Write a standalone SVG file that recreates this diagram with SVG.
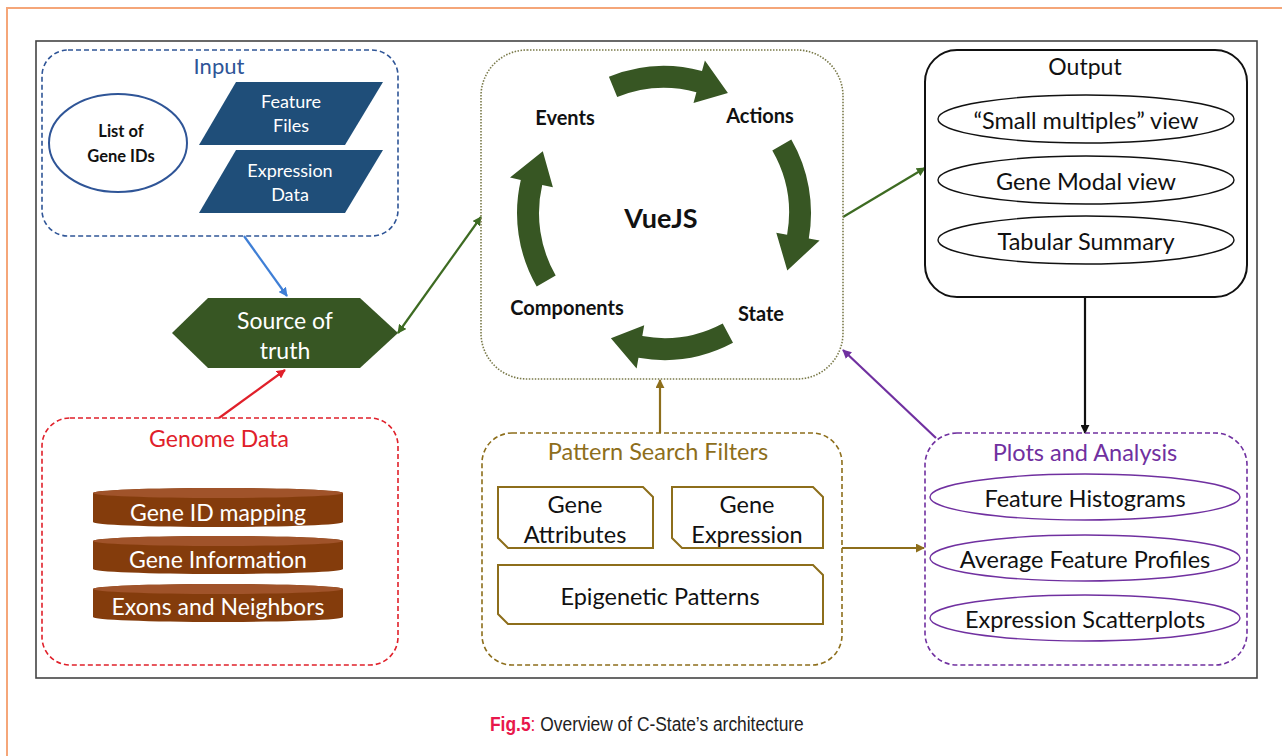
<svg xmlns="http://www.w3.org/2000/svg" width="1282" height="756" viewBox="0 0 1282 756">
<defs>
<style>
.t{font-family:Lato,"Open Sans","Liberation Sans",sans-serif;text-anchor:middle;dominant-baseline:central}
.b{font-weight:bold}
.con{fill:none;stroke-width:2.2}
</style>
<marker id="mBlue" viewBox="0 0 10 10" refX="9" refY="5" markerWidth="9" markerHeight="9" markerUnits="userSpaceOnUse" orient="auto"><path d="M0,0 L10,5 L0,10 Z" fill="#3f7fd6"/></marker>
<marker id="mRed" viewBox="0 0 10 10" refX="9" refY="5" markerWidth="9" markerHeight="9" markerUnits="userSpaceOnUse" orient="auto"><path d="M0,0 L10,5 L0,10 Z" fill="#e0202a"/></marker>
<marker id="mGreen" viewBox="0 0 10 10" refX="9" refY="5" markerWidth="9" markerHeight="9" markerUnits="userSpaceOnUse" orient="auto-start-reverse"><path d="M0,0 L10,5 L0,10 Z" fill="#3d6b22"/></marker>
<marker id="mBlack" viewBox="0 0 10 10" refX="9" refY="5" markerWidth="9" markerHeight="9" markerUnits="userSpaceOnUse" orient="auto"><path d="M0,0 L10,5 L0,10 Z" fill="#111"/></marker>
<marker id="mOlive" viewBox="0 0 10 10" refX="9" refY="5" markerWidth="9" markerHeight="9" markerUnits="userSpaceOnUse" orient="auto"><path d="M0,0 L10,5 L0,10 Z" fill="#8d6e1b"/></marker>
<marker id="mPurple" viewBox="0 0 10 10" refX="9" refY="5" markerWidth="9" markerHeight="9" markerUnits="userSpaceOnUse" orient="auto"><path d="M0,0 L10,5 L0,10 Z" fill="#7030a0"/></marker>
</defs>
<rect width="1282" height="756" fill="#fff"/>
<rect x="7" y="8" width="1290" height="760" fill="none" stroke="#f5a679" stroke-width="2"/>
<rect x="36" y="41" width="1221" height="637" fill="#fff" stroke="#444" stroke-width="1.6"/>

<g id="connectors">
<line class="con" x1="244" y1="236" x2="287" y2="296" stroke="#3f7fd6" marker-end="url(#mBlue)"/>
<line class="con" x1="219" y1="418" x2="285" y2="370" stroke="#e0202a" marker-end="url(#mRed)"/>
<line class="con" x1="398" y1="333" x2="481" y2="217" stroke="#3d6b22" marker-start="url(#mGreen)" marker-end="url(#mGreen)"/>
<line class="con" x1="843" y1="217" x2="925" y2="168" stroke="#3d6b22" marker-end="url(#mGreen)"/>
<line class="con" x1="1085" y1="297" x2="1085" y2="433" stroke="#111" marker-end="url(#mBlack)"/>
<line class="con" x1="936" y1="438" x2="843" y2="350" stroke="#7030a0" marker-end="url(#mPurple)"/>
<line class="con" x1="660" y1="433" x2="660" y2="380" stroke="#8d6e1b" marker-end="url(#mOlive)"/>
<line class="con" x1="842" y1="548" x2="924" y2="548" stroke="#8d6e1b" marker-end="url(#mOlive)"/>
</g>

<g id="input">
<rect x="42" y="50" width="356" height="186" rx="26" fill="none" stroke="#2f5597" stroke-width="1.6" stroke-dasharray="5,3"/>
<text class="t" x="219" y="65" font-size="22" fill="#2f5597">Input</text>
<ellipse cx="118" cy="143" rx="69" ry="49" fill="#fff" stroke="#2f5597" stroke-width="2"/>
<text class="t b" x="121" y="131" font-size="16.5" fill="#111">List of</text>
<text class="t b" x="121" y="156" font-size="16.5" fill="#111">Gene IDs</text>
<polygon points="236,82 383,82 345,145 199,145" fill="#1f4e79"/>
<text class="t" x="291" y="101" font-size="18" fill="#fff">Feature</text>
<text class="t" x="291" y="125" font-size="18" fill="#fff">Files</text>
<polygon points="236,150 383,150 345,213 199,213" fill="#1f4e79"/>
<text class="t" x="290" y="170" font-size="18" fill="#fff">Expression</text>
<text class="t" x="290" y="194" font-size="18" fill="#fff">Data</text>
</g>

<g id="source">
<polygon points="172,333 208,298 360,298 398,333 360,368 208,368" fill="#375623"/>
<text class="t" x="285" y="320" font-size="23" fill="#fff">Source of</text>
<text class="t" x="285" y="350" font-size="23" fill="#fff">truth</text>
</g>

<g id="genome">
<rect x="42" y="418" width="356" height="247" rx="28" fill="none" stroke="#e0202a" stroke-width="1.6" stroke-dasharray="5,3"/>
<text class="t" x="219" y="438" font-size="23" fill="#e0202a">Genome Data</text>
<path d="M93,493 A125,5 0 0 1 343,493 L343,522 A125,5 0 0 1 93,522 Z" fill="#843c0c"/>
<ellipse cx="218" cy="493" rx="125" ry="5" fill="#a0532a"/>
<text class="t" x="218" y="512" font-size="23" fill="#fff">Gene ID mapping</text>
<path d="M93,541 A125,5 0 0 1 343,541 L343,569 A125,5 0 0 1 93,569 Z" fill="#843c0c"/>
<ellipse cx="218" cy="541" rx="125" ry="5" fill="#a0532a"/>
<text class="t" x="218" y="559" font-size="23" fill="#fff">Gene Information</text>
<path d="M93,589 A125,5 0 0 1 343,589 L343,617 A125,5 0 0 1 93,617 Z" fill="#843c0c"/>
<ellipse cx="218" cy="589" rx="125" ry="5" fill="#a0532a"/>
<text class="t" x="218" y="606" font-size="23" fill="#fff">Exons and Neighbors</text>
</g>

<g id="vuejs">
<rect x="481" y="50" width="362" height="329" rx="46" fill="none" stroke="#7a7a4a" stroke-width="1.6" stroke-dasharray="1.5,1.5"/>
<path d="M608.9,76.7 A147,147 0 0 1 702,71 L704.9,60.4 L727.9,92.9 L693.5,102.9 L696.4,92.3 A125,125 0 0 0 617.2,97.1 Z" fill="#375623"/>
<path d="M791.3,139.5 A147,147 0 0 1 808.8,238.5 L819.6,240.4 L787.3,270.5 L776.3,232.8 L787.1,234.7 A125,125 0 0 0 772.3,150.5 Z" fill="#375623"/>
<path d="M733,342.8 A147,147 0 0 1 638.5,357.8 L636.6,368.6 L610.9,338.2 L644.2,325.3 L642.3,336.1 A125,125 0 0 0 722.7,323.4 Z" fill="#375623"/>
<path d="M536.7,286.5 A147,147 0 0 1 520.8,179.9 L510,177.4 L542.8,151.3 L552.9,187.3 L542.2,184.9 A125,125 0 0 0 555.7,275.5 Z" fill="#375623"/>
<text class="t b" x="565" y="117" font-size="20" fill="#111">Events</text>
<text class="t b" x="760" y="115" font-size="20" fill="#111">Actions</text>
<text class="t b" x="567" y="307" font-size="20" fill="#111">Components</text>
<text class="t b" x="761" y="313" font-size="20" fill="#111">State</text>
<text class="t b" x="661" y="217" font-size="27" fill="#111">VueJS</text>
</g>

<g id="output">
<rect x="925" y="50" width="322" height="247" rx="32" fill="none" stroke="#111" stroke-width="2"/>
<text class="t" x="1085" y="66" font-size="23" fill="#111">Output</text>
<ellipse cx="1086" cy="119" rx="148" ry="24" fill="none" stroke="#111" stroke-width="1.4"/>
<text class="t" x="1086" y="120" font-size="23.5" fill="#111">“Small multiples” view</text>
<ellipse cx="1086" cy="180" rx="148" ry="24" fill="none" stroke="#111" stroke-width="1.4"/>
<text class="t" x="1086" y="181" font-size="23.5" fill="#111">Gene Modal view</text>
<ellipse cx="1086" cy="240" rx="148" ry="24" fill="none" stroke="#111" stroke-width="1.4"/>
<text class="t" x="1086" y="241" font-size="23.5" fill="#111">Tabular Summary</text>
</g>

<g id="pattern">
<rect x="482" y="433" width="360" height="232" rx="30" fill="none" stroke="#8d6e1b" stroke-width="1.6" stroke-dasharray="5,3"/>
<text class="t" x="658" y="451" font-size="23.5" fill="#8d6e1b">Pattern Search Filters</text>
<polygon points="498,487 643,487 653,497 653,548 508,548 498,538" fill="#fff" stroke="#8d6e1b" stroke-width="2"/>
<text class="t" x="575" y="504" font-size="23.5" fill="#111">Gene</text>
<text class="t" x="575" y="534" font-size="23.5" fill="#111">Attributes</text>
<polygon points="672,487 813,487 823,497 823,548 682,548 672,538" fill="#fff" stroke="#8d6e1b" stroke-width="2"/>
<text class="t" x="747" y="504" font-size="23.5" fill="#111">Gene</text>
<text class="t" x="747" y="534" font-size="23.5" fill="#111">Expression</text>
<polygon points="498,565 813,565 823,575 823,624 508,624 498,614" fill="#fff" stroke="#8d6e1b" stroke-width="2"/>
<text class="t" x="660" y="596" font-size="23.5" fill="#111">Epigenetic Patterns</text>
</g>

<g id="plots">
<rect x="925" y="433" width="322" height="232" rx="32" fill="none" stroke="#7030a0" stroke-width="1.6" stroke-dasharray="5,3"/>
<text class="t" x="1085" y="452" font-size="23.5" fill="#7030a0">Plots and Analysis</text>
<ellipse cx="1085" cy="497" rx="155" ry="23" fill="#fff" stroke="#7030a0" stroke-width="1.4"/>
<text class="t" x="1085" y="498" font-size="23.5" fill="#111">Feature Histograms</text>
<ellipse cx="1085" cy="558" rx="155" ry="23" fill="#fff" stroke="#7030a0" stroke-width="1.4"/>
<text class="t" x="1085" y="559" font-size="23.5" fill="#111">Average Feature Profiles</text>
<ellipse cx="1085" cy="618" rx="155" ry="23" fill="#fff" stroke="#7030a0" stroke-width="1.4"/>
<text class="t" x="1085" y="619" font-size="23.5" fill="#111">Expression Scatterplots</text>
</g>

<g id="caption" transform="translate(490,731) scale(0.87,1)">
<text x="0" y="0" font-family="'Liberation Sans',Arial,sans-serif" font-size="20" fill="#222"><tspan fill="#e8174b" font-weight="bold">Fig.5</tspan><tspan fill="#e8174b">:</tspan> Overview of C-State’s architecture</text>
</g>
</svg>
